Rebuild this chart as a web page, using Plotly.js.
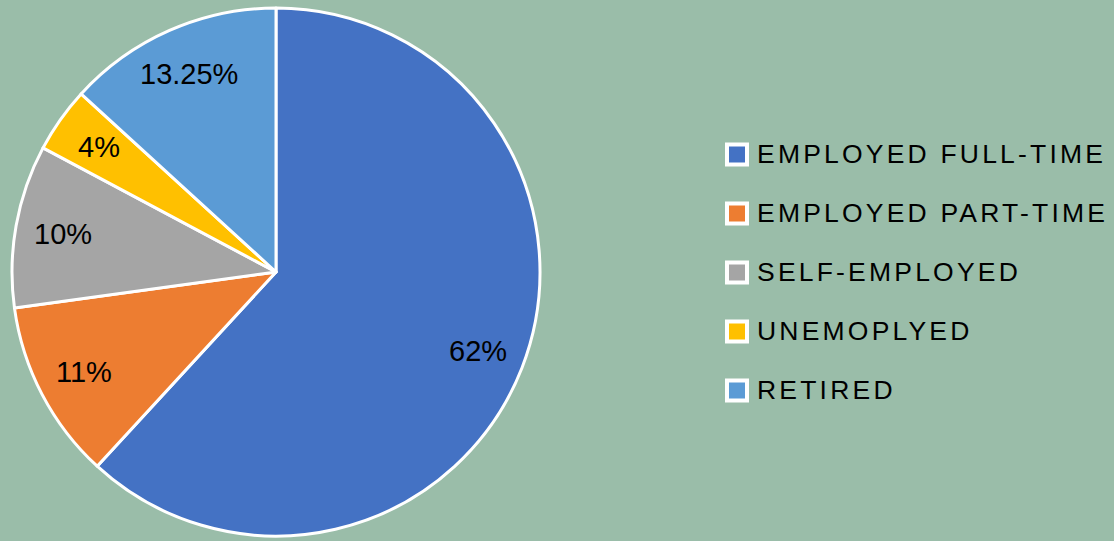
<!DOCTYPE html>
<html>
<head>
<meta charset="utf-8">
<script src="https://cdn.plot.ly/plotly-3.0.1.min.js"></script>
<style>html,body{margin:0;padding:0;background:#9ABDA9;}#chart{width:1114px;height:541px;}</style>
</head>
<body>
<div id="chart"></div>
<script>
const categories = ["EMPLOYED FULL-TIME", "EMPLOYED PART-TIME", "SELF-EMPLOYED", "UNEMOPLYED", "RETIRED"];
const values = [62, 11, 10, 4, 13.25];
const valueLabels = ["62%", "11%", "10%", "4%", "13.25%"];
const colors = ["#4472C4", "#ED7D31", "#A5A5A5", "#FFC000", "#5B9BD5"];

const W = 1114, H = 541;
const bg = "#9ABDA9";
const font = "Liberation Sans, Arial, sans-serif";

// pie geometry (pixels)
const cx = 276, cy = 272, R = 264;
const labelRadius = 0.82;

// Custom legend (Excel-style spacing) built from the category/colour arrays
const legendTextX = 755, legendY0 = 154.5, legendStep = 59, box = 20, boxX = 727;
const annotations = categories.map((c, i) => ({
  xref: "paper", yref: "paper",
  x: legendTextX / W, y: 1 - (legendY0 + i * legendStep - 0.5) / H,
  xanchor: "left", yanchor: "middle",
  text: '<span style="letter-spacing:3.2px">' + c + '</span>', showarrow: false,
  font: {family: font, size: 26.5, color: "#000"}
}));

// Data labels placed along each slice's mid-angle, derived from the values
const total = values.reduce((a, b) => a + b, 0);
let acc = 0;
values.forEach((v, i) => {
  const mid = (acc + v / 2) / total * 2 * Math.PI; // clockwise from 12 o'clock
  acc += v;
  const px = cx + R * labelRadius * Math.sin(mid);
  const py = cy - R * labelRadius * Math.cos(mid);
  annotations.push({
    xref: "paper", yref: "paper", x: px / W, y: 1 - py / H,
    xanchor: "center", yanchor: "middle", showarrow: false,
    text: valueLabels[i],
    font: {family: font, size: 29, color: "#000"}
  });
});

const shapes = categories.map((c, i) => {
  const y = legendY0 + i * legendStep;
  return {
    type: "rect", xref: "paper", yref: "paper",
    x0: boxX / W, x1: (boxX + box) / W,
    y0: 1 - (y - box / 2) / H, y1: 1 - (y + box / 2) / H,
    fillcolor: colors[i], line: {color: "#FFFFFF", width: 4}
  };
});

const trace = {
  type: "pie",
  labels: categories,
  values: values,
  text: valueLabels,
  textinfo: "none",
  sort: false,
  direction: "clockwise",
  rotation: 0,
  marker: {colors: colors, line: {color: "#FFFFFF", width: 3}},
  domain: {x: [(cx - R) / W, (cx + R) / W], y: [1 - (cy + R) / H, 1 - (cy - R) / H]},
  showlegend: false,
  hoverinfo: "label+text"
};

const layout = {
  width: W, height: H,
  margin: {l: 0, r: 0, t: 0, b: 0},
  paper_bgcolor: bg,
  plot_bgcolor: bg,
  showlegend: false,
  annotations: annotations,
  shapes: shapes
};

Plotly.newPlot("chart", [trace], layout, {displayModeBar: false, staticPlot: true});
</script>
</body>
</html>
